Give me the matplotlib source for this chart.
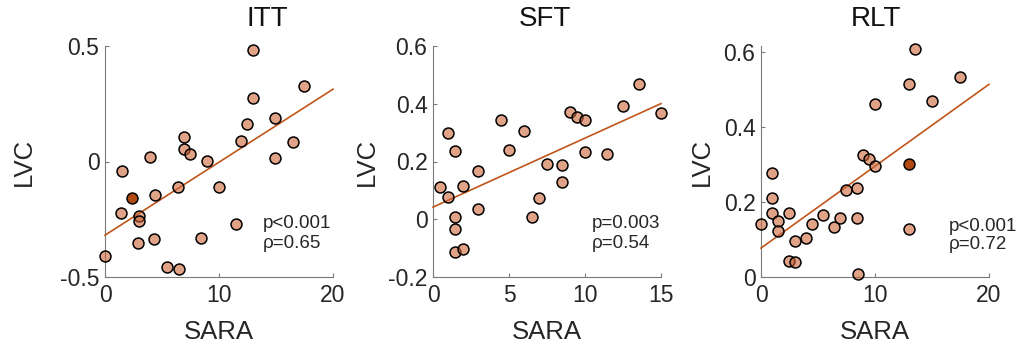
import matplotlib
matplotlib.use("Agg")
import matplotlib.pyplot as plt
import numpy as np

plt.rcParams['font.family'] = ['Liberation Sans', 'DejaVu Sans']

# ---------------- data ----------------
titles = ["ITT", "SFT", "RLT"]

itt_x = [0.0, 1.46, 1.43, 2.98, 2.95, 2.92, 3.94, 4.38, 4.32, 5.46, 6.45, 6.42,
         6.92, 6.89, 7.45, 8.38, 8.96, 9.96, 11.47, 11.97, 12.44, 12.99, 12.99,
         14.95, 14.95, 16.47, 17.46]
itt_y = [-0.409, -0.039, -0.222, -0.236, -0.258, -0.352, 0.020, -0.143, -0.336,
         -0.457, -0.465, -0.109, 0.107, 0.054, 0.033, -0.333, 0.001, -0.110,
         -0.270, 0.088, 0.161, 0.483, 0.277, 0.188, 0.014, 0.083, 0.328]
itt_hl_x = [2.39]
itt_hl_y = [-0.157]

sft_x = [0.44, 0.96, 0.96, 1.47, 1.47, 1.47, 1.47, 1.97, 1.97, 2.96, 2.96, 4.47,
         4.98, 5.96, 6.49, 7.0, 7.48, 8.49, 8.49, 8.99, 9.50, 10.0, 10.0, 11.47,
         12.5, 13.53, 15.0]
sft_y = [0.112, 0.297, 0.078, 0.238, 0.007, -0.033, -0.112, -0.104, 0.114, 0.166,
         0.037, 0.345, 0.239, 0.307, 0.008, 0.073, 0.192, 0.187, 0.129, 0.370,
         0.355, 0.345, 0.234, 0.225, 0.391, 0.470, 0.367]
sft_hl_x = []
sft_hl_y = []

rlt_x = [0.0, 1.0, 0.96, 0.96, 1.46, 1.46, 2.45, 2.45, 3.0, 2.94, 3.97, 4.46,
         5.48, 6.44, 6.94, 7.43, 8.45, 8.45, 8.51, 8.95, 9.48, 9.97, 10.0, 12.94,
         12.94, 13.5, 15.0, 17.49]
rlt_y = [0.140, 0.278, 0.210, 0.171, 0.148, 0.123, 0.170, 0.042, 0.039, 0.097,
         0.105, 0.140, 0.164, 0.133, 0.158, 0.232, 0.237, 0.158, 0.007, 0.326,
         0.314, 0.295, 0.460, 0.514, 0.128, 0.607, 0.469, 0.532]
rlt_hl_x = [12.94]
rlt_hl_y = [0.300]

# regression lines (intercept, slope)
fit_intercepts = [-0.319, 0.042, 0.077]
fit_slopes = [0.0316, 0.0239, 0.0218]

p_texts = ["p<0.001", "p=0.003", "p<0.001"]
rho_texts = ["ρ=0.65", "ρ=0.54", "ρ=0.72"]

xlims = [(0, 20), (0, 15), (0, 20)]
ylims = [(-0.5, 0.5), (-0.2, 0.6), (0, 0.615)]
xticks = [[0, 10, 20], [0, 5, 10, 15], [0, 10, 20]]
yticks = [[-0.5, 0, 0.5], [-0.2, 0, 0.2, 0.4, 0.6], [0, 0.2, 0.4, 0.6]]
ytick_labels = [["-0.5", "0", "0.5"], ["-0.2", "0", "0.2", "0.4", "0.6"],
                ["0", "0.2", "0.4", "0.6"]]

# ---------------- layout / style ----------------
W, H = 1024, 349
fig = plt.figure(figsize=(W / 100, H / 100), dpi=100)

ax_lefts = [105, 433, 761]
ax_w = 228
ax_top, ax_bot = 46, 277
ylabel_x = [-0.355, -0.29, -0.26]
title_x = [267, 545, 876]
ann_x = [0.693, 0.697, 0.825]
ann_y1 = [0.232, 0.232, 0.220]
ann_y2 = [0.145, 0.145, 0.140]

face = (0.80, 0.38, 0.20, 0.58)
face_hl = '#B04A12'
line_col = '#C0551A'
spine_col = '#7a7a7a'
text_col = '#262626'

xs_all = [itt_x, sft_x, rlt_x]
ys_all = [itt_y, sft_y, rlt_y]
hx_all = [itt_hl_x, sft_hl_x, rlt_hl_x]
hy_all = [itt_hl_y, sft_hl_y, rlt_hl_y]

for i in range(3):
    ax = fig.add_axes([ax_lefts[i] / W, (H - ax_bot) / H, ax_w / W,
                       (ax_bot - ax_top) / H])
    ax.set_xlim(*xlims[i])
    ax.set_ylim(*ylims[i])

    xl = np.array(xlims[i], dtype=float)
    ax.plot(xl, fit_intercepts[i] + fit_slopes[i] * xl, color=line_col,
            lw=1.2, zorder=3, clip_on=False)

    ax.scatter(xs_all[i], ys_all[i], s=62, facecolors=[face],
               edgecolors='black', linewidths=1.1, zorder=4, clip_on=False)
    if len(hx_all[i]):
        ax.scatter(hx_all[i], hy_all[i], s=62, facecolors=face_hl,
                   edgecolors='black', linewidths=1.1, zorder=5, clip_on=False)

    for s in ['top', 'right']:
        ax.spines[s].set_visible(False)
    for s in ['left', 'bottom']:
        ax.spines[s].set_color(spine_col)
        ax.spines[s].set_linewidth(0.8)

    ax.set_xticks(xticks[i])
    ax.set_yticks(yticks[i])
    ax.set_yticklabels(ytick_labels[i])
    ax.tick_params(direction='in', length=3, width=0.8, color=spine_col,
                   labelsize=16.5, labelcolor=text_col)
    ax.tick_params(axis='x', pad=5)
    ax.tick_params(axis='y', pad=4)

    ax.set_xlabel("SARA", fontsize=18.5, color=text_col)
    ax.xaxis.label.set_va('center')
    ax.xaxis.set_label_coords(0.5, -0.238)
    ax.set_ylabel("LVC", fontsize=18.5, color=text_col)
    ax.yaxis.label.set_va('center')
    ax.yaxis.set_label_coords(ylabel_x[i], 0.5)

    ax.text(ann_x[i], ann_y1[i], p_texts[i], transform=ax.transAxes,
            fontsize=13.5, color=text_col, va='center', ha='left')
    ax.text(ann_x[i], ann_y2[i], rho_texts[i], transform=ax.transAxes,
            fontsize=13.5, color=text_col, va='center', ha='left')

    fig.text(title_x[i] / W, (H - 19) / H, titles[i], fontsize=20,
             color='#111111', ha='center', va='center')

fig.savefig("out.png", dpi=100)
